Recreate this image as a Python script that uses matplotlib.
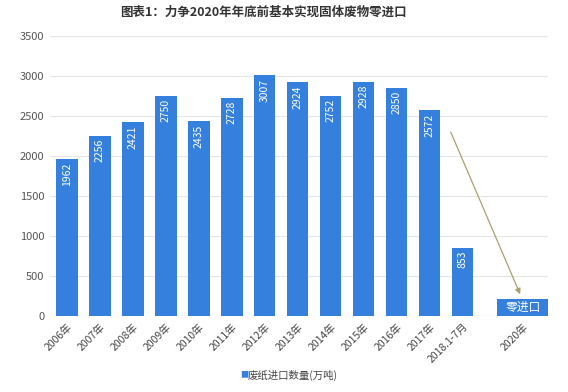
import matplotlib
matplotlib.use("Agg")
import matplotlib.pyplot as plt

plt.rcParams['font.family'] = ['Noto Sans CJK SC', 'DejaVu Sans']

categories = ["2006年", "2007年", "2008年", "2009年", "2010年", "2011年", "2012年",
              "2013年", "2014年", "2015年", "2016年", "2017年", "2018.1-7月"]
values = [1962, 2256, 2421, 2750, 2435, 2728, 3007, 2924, 2752, 2928, 2850, 2572, 853]
final_label = "2020年"
final_value = 210
final_text = "零进口"
yticks = [0, 500, 1000, 1500, 2000, 2500, 3000, 3500]

bar_color = "#3580dc"

fig = plt.figure(figsize=(5.68, 3.92), dpi=100)
ax = fig.add_axes([50/568, 1-316/392, 498/568, 280/392])

pos = list(range(len(categories)))
bars = ax.bar(pos, values, width=0.64, color=bar_color, zorder=3)
for x, v in zip(pos, values):
    ax.text(x, v - 40, str(v), rotation=90, ha='center', va='top', color='white',
            fontsize=7.5, zorder=4)

final_pos = 13.82
ax.bar([final_pos], [final_value], width=1.58, color=bar_color, zorder=3)
ax.text(final_pos, final_value / 2, final_text, ha='center', va='center', color='white',
        fontsize=8.5, zorder=4)

ax.annotate("", xy=(final_pos - 0.05, final_value + 30), xytext=(11.6, 2330),
            arrowprops=dict(arrowstyle='-|>', color='#a8a070', lw=0.9, mutation_scale=8),
            zorder=5)

ax.set_xlim(-0.515, 14.58)
ax.set_ylim(0, 3500)
ax.set_yticks(yticks)
ax.set_yticklabels([str(t) for t in yticks], fontsize=8, color='#555555', style='italic')
ax.set_xticks(pos + [final_pos])
ax.set_xticklabels(categories + [final_label], rotation=45, ha='right',
                   rotation_mode='anchor', fontsize=7.5, color='#444444')
ax.tick_params(axis='both', length=0, pad=4)
ax.grid(axis='y', color='#e6e6e6', lw=0.8, zorder=0)
for s in ax.spines.values():
    s.set_visible(False)
ax.axhline(0, color='#dddddd', lw=0.8, zorder=2)

fig.text(263/568, 1-12/392, "图表1：力争2020年年底前基本实现固体废物零进口", ha='center', va='center',
         fontsize=9, fontweight='bold', color='#333333')

fig.text(240/568, 1-375/392, "■", ha='left', va='center', fontsize=6, color=bar_color)
fig.text(248/568, 1-375/392, "废纸进口数量(万吨)", ha='left', va='center', fontsize=7.5, color='#444444')

fig.savefig("out.png", dpi=100)
